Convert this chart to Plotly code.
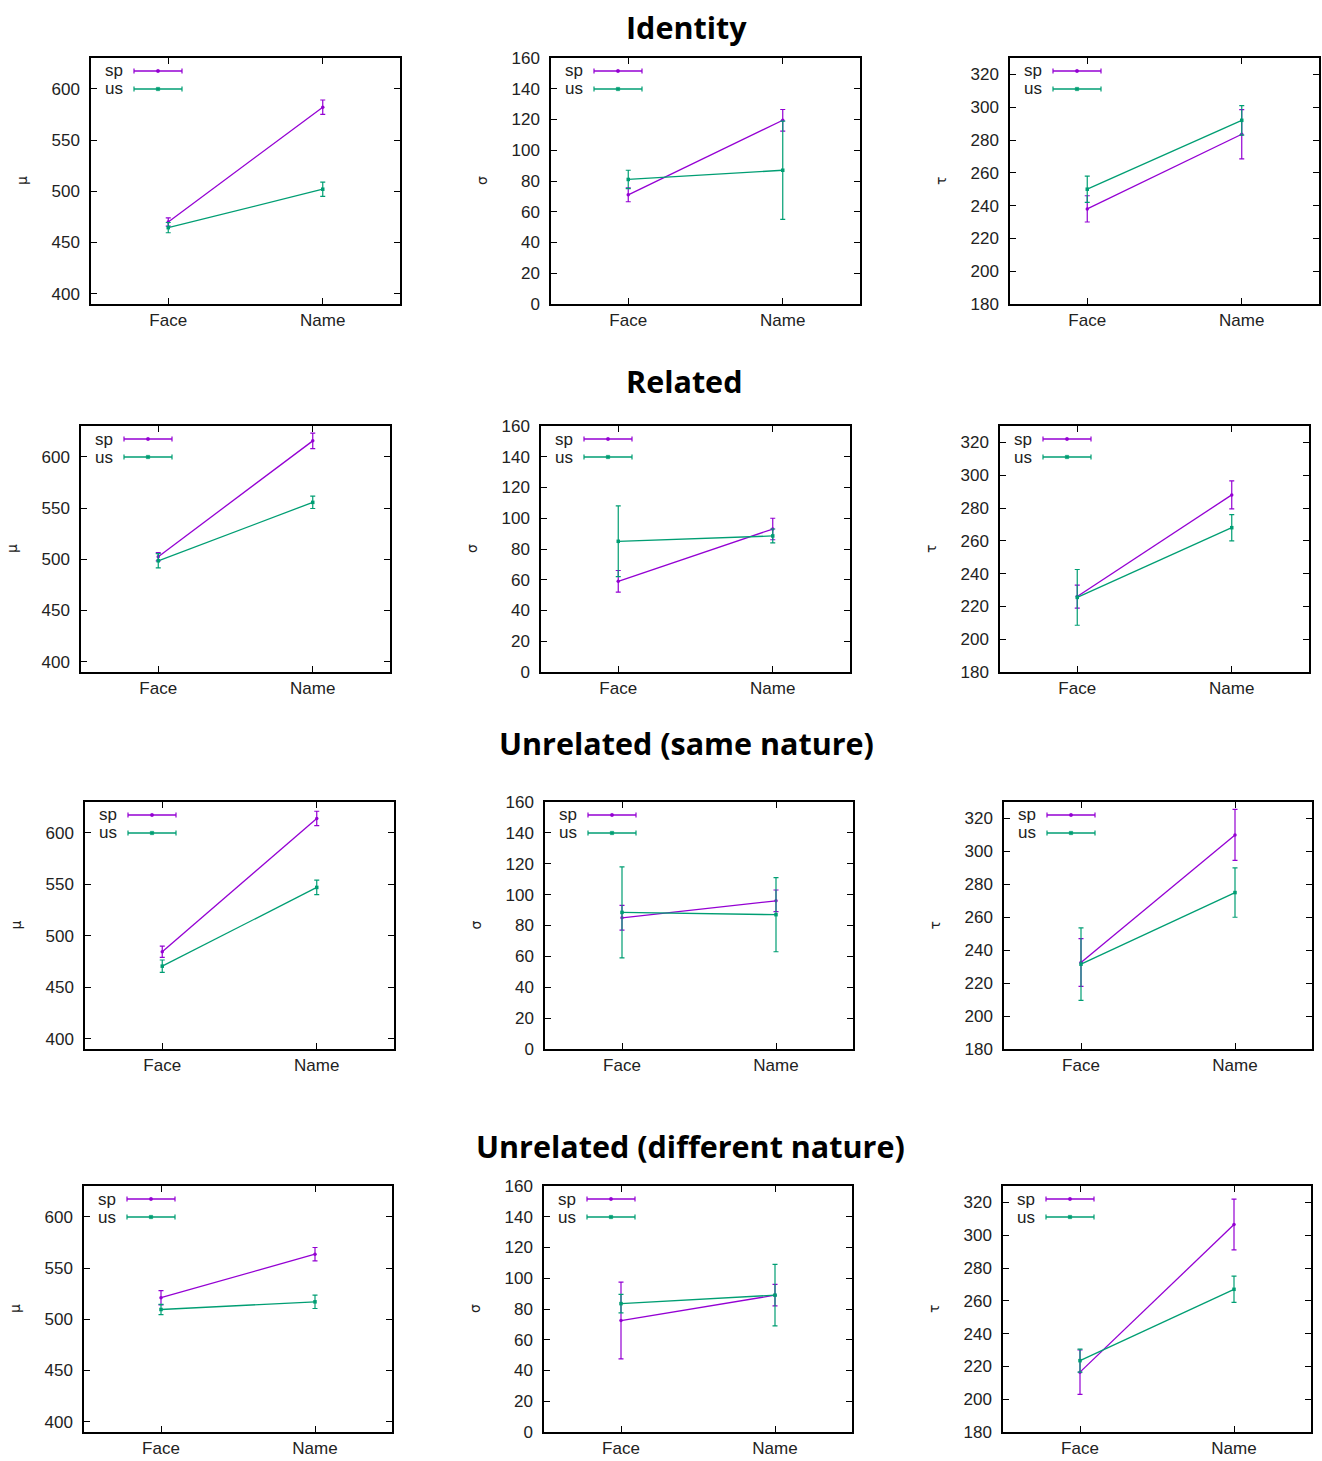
import plotly.graph_objects as go
from plotly.subplots import make_subplots

# ---------------- data ----------------
categories = ["Face", "Name"]
groups = ["sp", "us"]
conditions = ["Identity", "Related", "Unrelated (same nature)", "Unrelated (different nature)"]
param_labels = ["μ", "σ", "τ"]

# each row = one condition, values for [Face, Name]
mu_sp = [[470, 582], [502.5, 615.5], [484.5, 614], [521, 563.5]]
mu_sp_err = [[4, 7], [4, 7.5], [5.5, 7], [7, 6.5]]
mu_us = [[464.5, 502], [498.5, 555.5], [470.5, 547], [509.5, 517]]
mu_us_err = [[5, 7], [7, 6], [6, 7], [5, 6.5]]

sigma_sp = [[71, 119.5], [59, 93], [85, 96], [72.5, 89]]
sigma_sp_err = [[4.5, 7], [7, 7], [8, 7], [25, 7]]
sigma_us = [[81, 87], [85, 88.5], [88.5, 87], [83.5, 89]]
sigma_us_err = [[6, 32], [23, 4.5], [29.5, 24], [6, 20]]

tau_sp = [[238, 283.5], [226, 288], [232.5, 310], [216.5, 306.5]]
tau_sp_err = [[8, 15], [7, 8.5], [14.5, 15.5], [13.5, 15.5]]
tau_us = [[250, 292], [225.5, 268], [231.5, 275], [223.5, 267]]
tau_us_err = [[8, 9], [17, 8], [22, 15], [7, 8]]

mu_ticks = [400, 450, 500, 550, 600]
sigma_ticks = [0, 20, 40, 60, 80, 100, 120, 140, 160]
tau_ticks = [180, 200, 220, 240, 260, 280, 300, 320]

# ---------------- style / layout ----------------
W, H = 1322, 1461
COL_SP = "#9400d3"
COL_US = "#009e73"
TICK_FONT = dict(family="Liberation Sans, Arial, sans-serif", size=17, color="#222222")

# plot box pixel geometry per row: x-extents for the 3 columns, y-extent
row_boxes = [
    ([(91, 400), (551, 860), (1010, 1319)], (58, 304)),
    ([(81, 390), (541, 850), (1000, 1309)], (426, 672)),
    ([(85, 394), (545, 853), (1004, 1312)], (802, 1049)),
    ([(84, 392), (544, 852), (1003, 1311)], (1186, 1432)),
]
title_pos = [(686, 27), (684, 381), (686, 743), (690, 1146)]

params = [
    (mu_sp, mu_sp_err, mu_us, mu_us_err, [390, 630], mu_ticks),
    (sigma_sp, sigma_sp_err, sigma_us, sigma_us_err, [0, 160], sigma_ticks),
    (tau_sp, tau_sp_err, tau_us, tau_us_err, [180, 330], tau_ticks),
]

fig = make_subplots(rows=4, cols=3)

shapes = []
annotations = []

for r in range(4):
    xb, (yt, yb) = row_boxes[r]
    for c in range(3):
        n = r * 3 + c + 1
        sp, sp_e, us, us_e, yr, yt_vals = params[c]
        fig.add_trace(go.Scatter(
            x=[0, 1], y=sp[r], mode="lines+markers", name=groups[0], showlegend=False,
            line=dict(color=COL_SP, width=1.3),
            marker=dict(symbol="circle", size=3.5, color=COL_SP),
            error_y=dict(type="data", array=sp_e[r], symmetric=True, color=COL_SP,
                         thickness=1.2, width=2.5),
        ), row=r + 1, col=c + 1)
        fig.add_trace(go.Scatter(
            x=[0, 1], y=us[r], mode="lines+markers", name=groups[1], showlegend=False,
            line=dict(color=COL_US, width=1.3),
            marker=dict(symbol="square", size=3.5, color=COL_US),
            error_y=dict(type="data", array=us_e[r], symmetric=True, color=COL_US,
                         thickness=1.2, width=2.5),
        ), row=r + 1, col=c + 1)

        x0, x1 = xb[c]
        xa = "xaxis" if n == 1 else f"xaxis{n}"
        ya = "yaxis" if n == 1 else f"yaxis{n}"
        fig.layout[xa].update(
            domain=[x0 / W, x1 / W], range=[-0.5, 1.5], automargin=False,
            tickvals=[0, 1], ticktext=categories, tickfont=TICK_FONT,
            ticks="inside", ticklen=6, tickcolor="black", tickwidth=1,
            showline=True, linecolor="black", linewidth=1.5, mirror="ticks",
            showgrid=False, zeroline=False, ticklabelstandoff=0,
        )
        fig.layout[ya].update(
            domain=[1 - yb / H, 1 - yt / H], range=yr, automargin=False,
            tickvals=yt_vals, tickfont=TICK_FONT,
            ticks="inside", ticklen=6, tickcolor="black", tickwidth=1,
            showline=True, linecolor="black", linewidth=1.5, mirror="ticks",
            showgrid=False, zeroline=False, ticklabelstandoff=6,
        )

        # y-axis label
        xref_d = ("x" if n == 1 else f"x{n}") + " domain"
        yref_d = ("y" if n == 1 else f"y{n}") + " domain"
        annotations.append(dict(
            text=param_labels[c], xref=xref_d, yref=yref_d, x=0, y=0.5,
            xshift=-69, xanchor="center", yanchor="middle", textangle=-90,
            showarrow=False, font=dict(family="DejaVu Sans, sans-serif", size=14, color="#222222"),
        ))

        # key (gnuplot style: label then sample)
        bw = x1 - x0
        bh = yb - yt
        for k, (g, col) in enumerate(zip(groups, [COL_SP, COL_US])):
            ypx = 13 + 18 * k
            yy = 1 - ypx / bh
            annotations.append(dict(
                text=g, xref=xref_d, yref=yref_d, x=12 / bw, y=yy,
                xanchor="left", yanchor="middle", showarrow=False,
                font=TICK_FONT,
            ))
            lx0, lx1 = 43 / bw, 91 / bw
            shapes.append(dict(type="line", xref=xref_d, yref=yref_d,
                               x0=lx0, x1=lx1, y0=yy, y1=yy,
                               line=dict(color=col, width=1.3)))
            cap = 2.5 / bh
            for lx in (lx0, lx1):
                shapes.append(dict(type="line", xref=xref_d, yref=yref_d,
                                   x0=lx, x1=lx, y0=yy - cap, y1=yy + cap,
                                   line=dict(color=col, width=1.2)))
            mx = 67 / bw
            mw = 1.7 / bw
            mh = 1.7 / bh
            shapes.append(dict(type="rect" if k else "circle", xref=xref_d, yref=yref_d,
                               x0=mx - mw, x1=mx + mw, y0=yy - mh, y1=yy + mh,
                               fillcolor=col, line=dict(color=col, width=0.5)))

for (tx, ty), t in zip(title_pos, conditions):
    annotations.append(dict(
        text=t, xref="paper", yref="paper", x=tx / W, y=1 - ty / H,
        xanchor="center", yanchor="middle", showarrow=False,
        font=dict(family="Open Sans, sans-serif", size=30.5, color="black", weight="bold"),
    ))

fig.update_layout(
    width=W, height=H, margin=dict(l=0, r=0, t=0, b=0, pad=0),
    paper_bgcolor="white", plot_bgcolor="white",
    showlegend=False, shapes=shapes, annotations=annotations,
)

fig.write_html(
    "out.html",
    config={"displayModeBar": False},
    post_script="document.body.style.margin='0';document.body.style.overflow='hidden';",
)
